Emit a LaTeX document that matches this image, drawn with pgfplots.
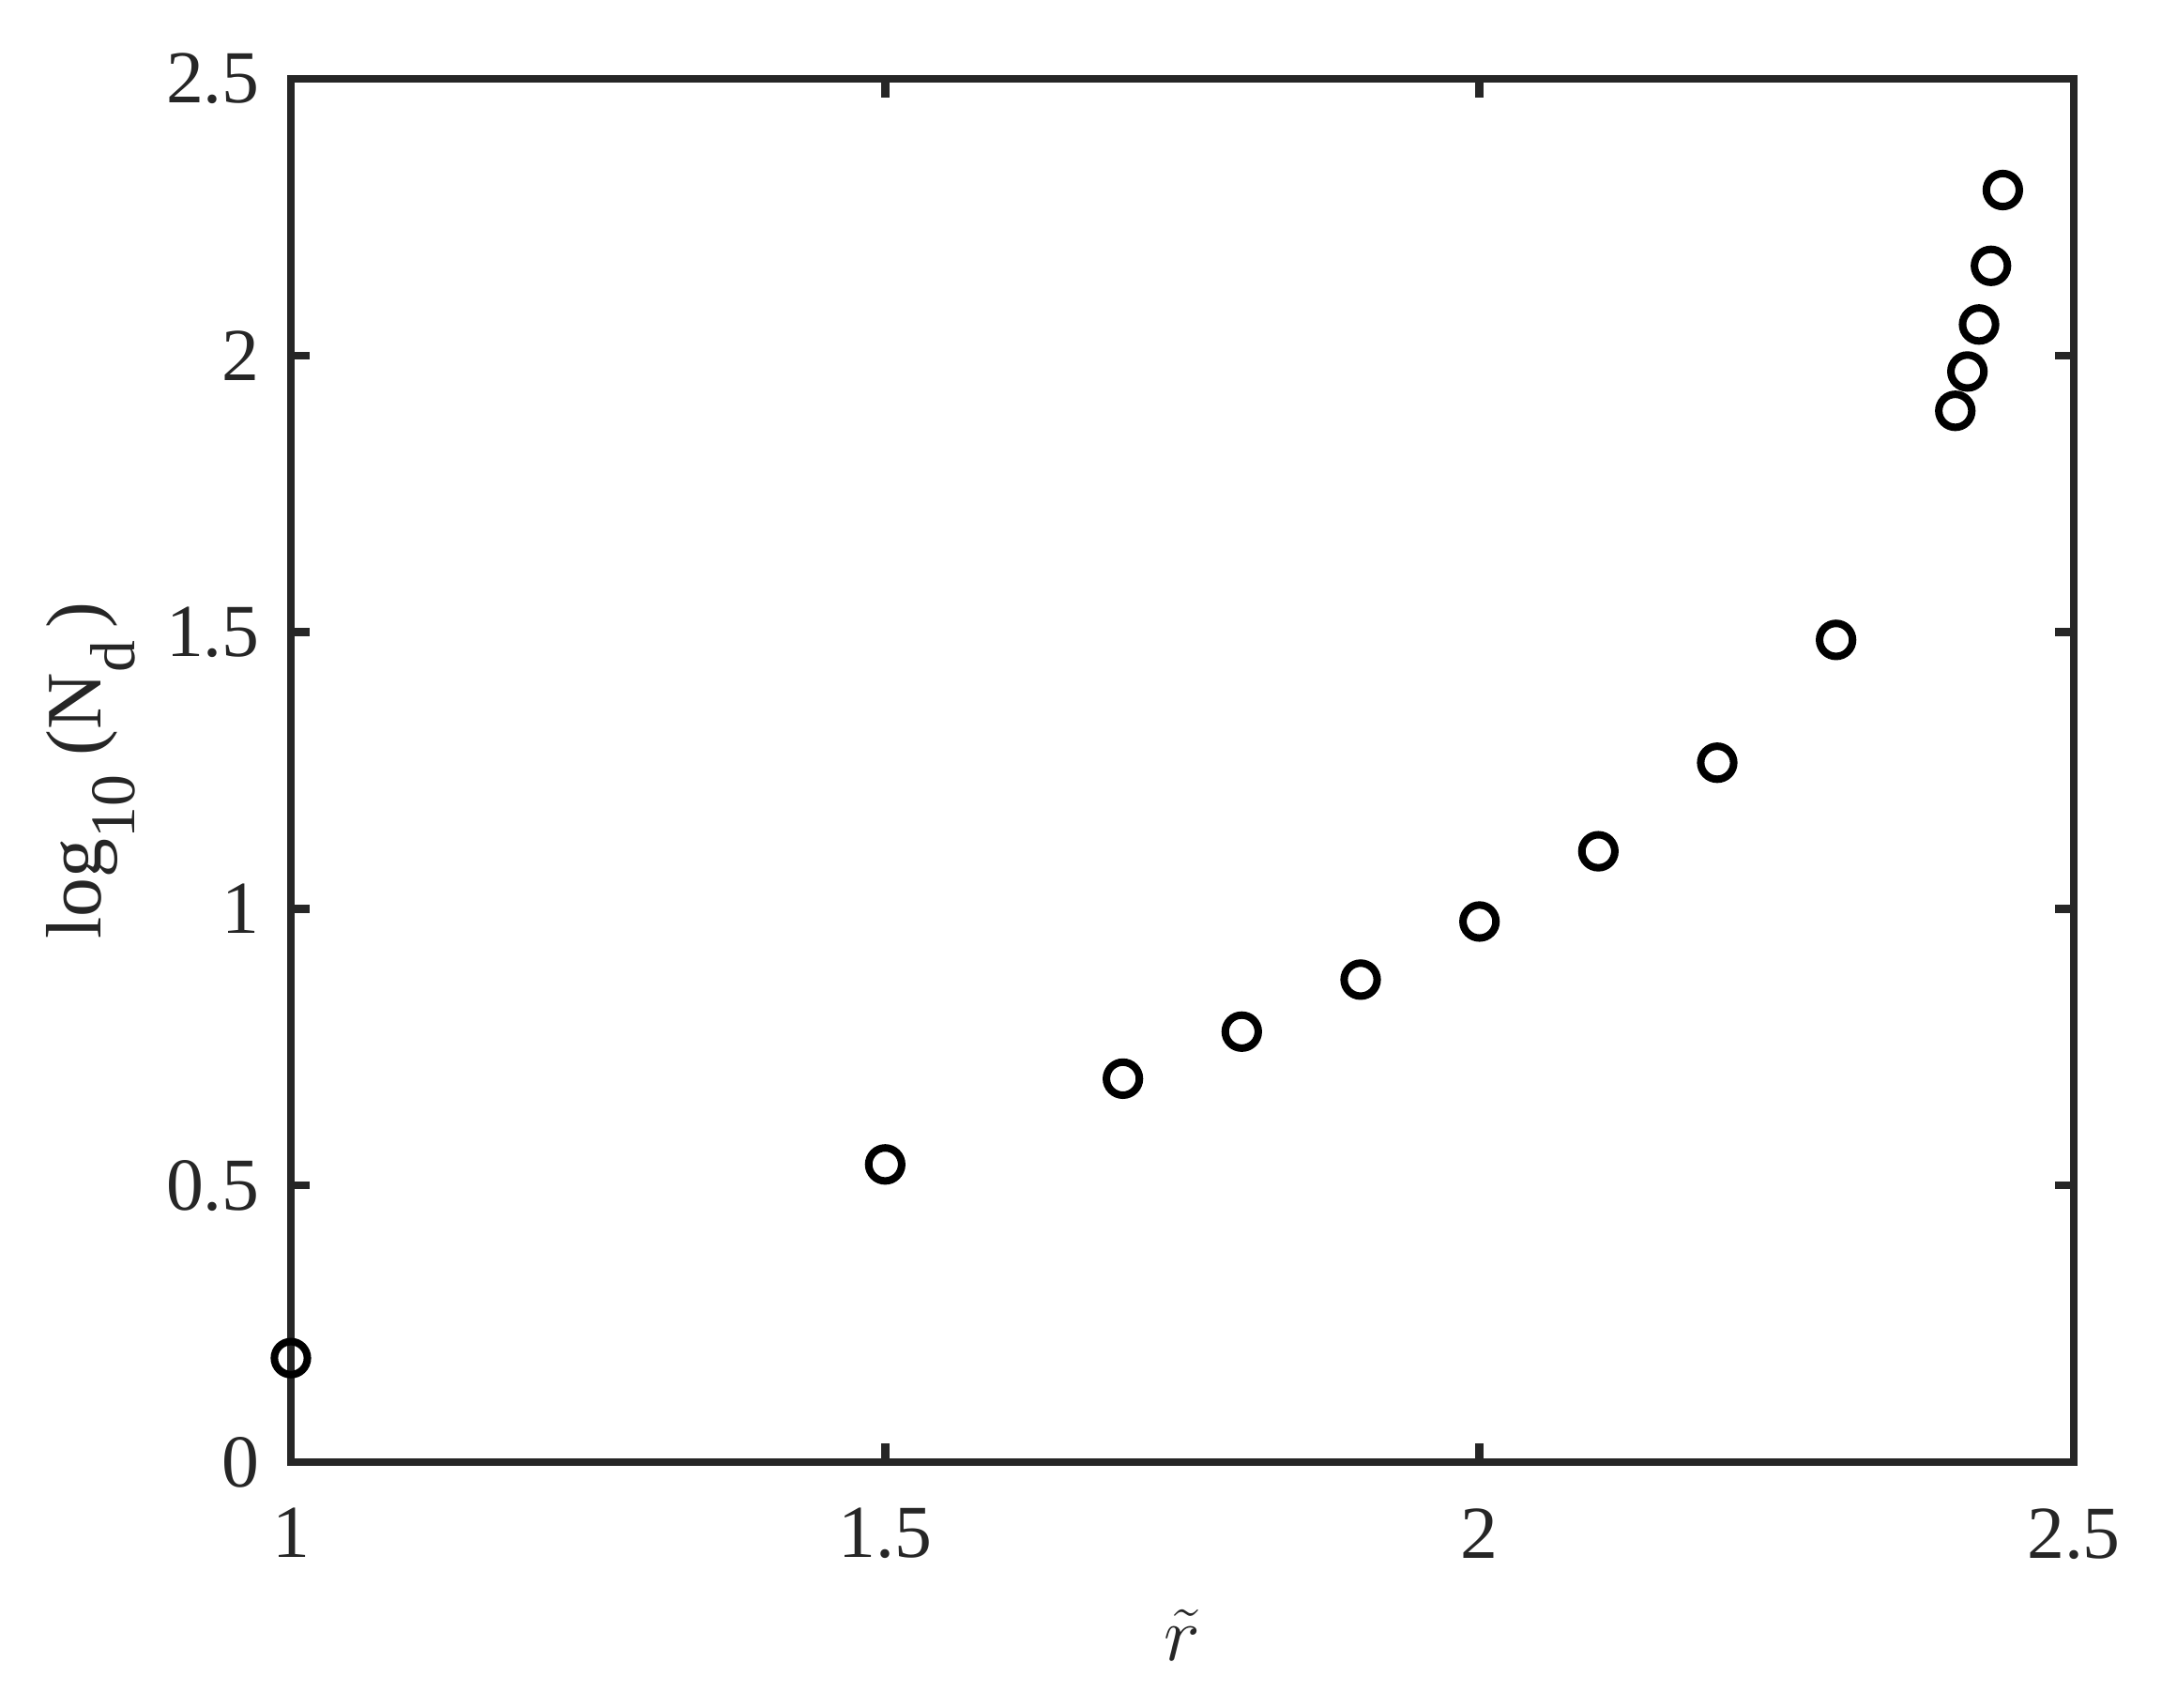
\documentclass[border=0pt]{standalone}
\usepackage{fontspec}
\setmainfont{Liberation Serif}
\usepackage{pgfplots}
\pgfplotsset{compat=1.18}
\definecolor{axgray}{HTML}{262626}
\newcommand{\lowsub}[1]{\raisebox{-9bp}{\fontsize{17}{20}\selectfont #1}}

\begin{document}
\fontsize{20}{24}\selectfont
\begin{tikzpicture}
\begin{axis}[
    scale only axis,
    width=475bp,
    height=368.5bp,
    xmin=1, xmax=2.5,
    ymin=0, ymax=2.5,
    xtick={1,1.5,2,2.5},
    ytick={0,0.5,1,1.5,2,2.5},
    tick align=inside,
    xtick pos=both,
    ytick pos=both,
    major tick length=5bp,
    axis line style={axgray, line width=2.1bp},
    every tick/.style={axgray, line width=2.1bp},
    tick label style={font=\fontsize{20}{24}\selectfont, text=axgray},
    /pgf/number format/assume math mode=true,
    xticklabel style={yshift=-5.5bp},
    yticklabel style={xshift=-1.5bp},
    xlabel={$\tilde{r}$},
    ylabel={log\lowsub{10} (N\lowsub{d}\,)},
    label style={font=\fontsize{21}{24}\selectfont, text=axgray},
    xlabel style={yshift=0bp},
    ylabel style={at={([xshift=-50.5bp]rel axis cs:0,0.5)}, anchor=base},
    clip=false,
]
\addplot[only marks, mark=o, mark size=4.4bp, mark options={black, line width=2bp}] coordinates {
    (1.0,0.188) (1.5,0.538) (1.7,0.693) (1.8,0.778) (1.9,0.872)
    (2.0,0.977) (2.1,1.104) (2.2,1.264) (2.3,1.486)
    (2.4003,1.900) (2.4105,1.971) (2.4203,2.056) (2.4303,2.162) (2.4403,2.299)
};
\end{axis}
\useasboundingbox (current axis.south west) ++(-77.5bp,-65.5bp) rectangle ([shift={(23.5bp,21bp)}]current axis.north east);
\end{tikzpicture}
\end{document}
